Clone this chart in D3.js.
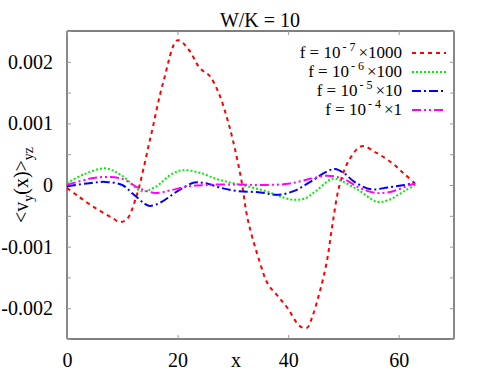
<!DOCTYPE html>
<html>
<head>
  <script src="https://cdn.jsdelivr.net/npm/d3@7"></script>
  <style>
    body { margin: 0; background: #fff; }
  </style>
</head>
<body>
<div id="chart"></div>
<script>
  // x samples and series values
  const redX   = [0, 2, 4.7, 8.1, 9.6, 10.8, 12.5, 15, 17.5, 20, 22, 24, 25.8, 27.5, 28.9, 30, 31.5, 32.7, 34.9, 36.3, 38.1, 39.9, 42.1, 43.4, 44.4, 45.7, 47, 48, 49.3, 51, 53.3, 56, 58.9, 61, 62.9];
  const redY   = [-0.00005, -0.00018, -0.00035, -0.00053, -0.0006, -0.00056, -0.0002, 0.00073, 0.0017, 0.00235, 0.0022, 0.0019, 0.00177, 0.00148, 0.0011, 0.00073, 0.0001, -0.00056, -0.00126, -0.0016, -0.0018, -0.002, -0.00229, -0.00232, -0.00213, -0.00174, -0.00124, -0.00065, 0, 0.0004, 0.00063, 0.00052, 0.00035, 0.00018, 0.00003];

  const greenX = [0, 3, 7, 10, 13.5, 16, 19, 21, 24, 27, 30, 33, 36, 39, 41, 43, 45, 48, 50, 53, 56, 58, 61, 63];
  const greenY = [0.00003, 0.00017, 0.00027, 0.00015, -0.0001, -0.00003, 0.00018, 0.00024, 0.0002, 0.0001, 0.00003, -0.00003, -0.0001, -0.0002, -0.00024, -0.00022, -0.0001, 0.0001, 0.00005, -0.0001, -0.00027, -0.00025, -0.0001, 0];

  const blueX  = [0, 4, 7, 10, 12, 14, 15, 17, 20, 23, 25, 28, 31, 35, 38, 41, 44, 47, 48.5, 50, 52, 55, 58, 61, 63];
  const blueY  = [-0.00002, 0.00003, 0.00005, 0, -0.00015, -0.0003, -0.00034, -0.00028, -0.0001, 0.00004, 0.00003, -0.00005, -0.0001, -0.00012, -0.00016, -0.0001, 0.00005, 0.00022, 0.00026, 0.0002, 0.00005, -0.00007, -0.00004, 0, 0.00003];

  const magX   = [0, 4, 7, 10, 13, 16, 19, 22, 25, 30, 35, 40, 44, 47, 50, 53, 56, 59, 62, 63];
  const magY   = [0, 0.0001, 0.00013, 0.0001, -0.00005, -0.00013, -0.00008, -0.00002, 0, 0.00001, 0, 0.00002, 0.0001, 0.00015, 0.0001, -0.00005, -0.00013, -0.0001, 0, 0.00002];

  const xTicks = [0, 20, 40, 60];
  const yTicks = [-0.002, -0.001, 0, 0.001, 0.002];
  const legendExp = ["- 7", "- 6", "- 5", "- 4"];
  const legendMul = ["×1000", "×100", "×10", "×1"];

  const width = 486, height = 375;
  const margin = {top: 31, right: 32, bottom: 36, left: 67};
  const w = width - margin.left - margin.right;
  const h = height - margin.top - margin.bottom;
  const serif = "'Liberation Serif', 'DejaVu Serif', serif";

  const svg = d3.select("#chart").append("svg")
      .attr("width", width)
      .attr("height", height)
      .style("font-family", serif);

  const g = svg.append("g")
      .attr("transform", `translate(${margin.left},${margin.top})`);

  const x = d3.scaleLinear().domain([0, 70]).range([0, w]);
  const y = d3.scaleLinear().domain([-0.0025, 0.0025]).range([h, 0]);

  // frame: top/bottom black, sides gray
  g.append("line").attr("x1", 0).attr("x2", w).attr("y1", 0).attr("y2", 0).attr("stroke", "#000");
  g.append("line").attr("x1", 0).attr("x2", w).attr("y1", h).attr("y2", h).attr("stroke", "#000");
  g.append("line").attr("x1", 0).attr("x2", 0).attr("y1", 0).attr("y2", h).attr("stroke", "#888").attr("stroke-width", 2);
  g.append("line").attr("x1", w).attr("x2", w).attr("y1", 0).attr("y2", h).attr("stroke", "#888").attr("stroke-width", 2);

  const minorY = d3.range(-0.0025, 0.00251, 0.0005);

  function styleAxis(sel) {
    sel.attr("font-family", null).style("font-family", serif);
    sel.select(".domain").remove();
    sel.selectAll(".tick line").attr("stroke", "#999");
    sel.selectAll(".tick text").attr("fill", "#000");
  }

  g.append("g").attr("transform", `translate(0,${h})`)
      .call(d3.axisBottom(x).tickValues(xTicks).tickSize(-4).tickPadding(14).tickFormat(d3.format("d")))
      .call(styleAxis)
      .selectAll("text").attr("font-size", 20);

  g.append("g")
      .call(d3.axisTop(x).tickValues(xTicks).tickSize(-4).tickFormat(""))
      .call(styleAxis);

  g.append("g")
      .call(d3.axisLeft(y).tickValues(minorY).tickSize(-4).tickFormat(""))
      .call(styleAxis);

  g.append("g")
      .call(d3.axisLeft(y).tickValues(yTicks).tickSize(0).tickPadding(14)
        .tickFormat(d => d === 0 ? "0" : d3.format(".3f")(d).replace("−", "-")))
      .call(styleAxis)
      .selectAll("text").attr("font-size", 20);

  g.append("g").attr("transform", `translate(${w},0)`)
      .call(d3.axisRight(y).tickValues(minorY).tickSize(-4).tickFormat(""))
      .call(styleAxis);

  // curves
  const series = [
    {xs: redX, ys: redY, color: "#ff0000", dash: "4,4"},
    {xs: greenX, ys: greenY, color: "#00ee00", dash: "2,2"},
    {xs: blueX, ys: blueY, color: "#0000ff", dash: "9,3,2,3"},
    {xs: magX, ys: magY, color: "#ff00ff", dash: "9,3,2,3,2,3"}
  ];

  const line = d3.line()
      .x(d => x(d[0]))
      .y(d => y(d[1]))
      .curve(d3.curveCatmullRom.alpha(0.5));

  series.forEach(s => {
    g.append("path")
        .datum(s.xs.map((v, i) => [v, s.ys[i]]))
        .attr("d", line)
        .attr("fill", "none")
        .attr("stroke", s.color)
        .attr("stroke-width", 2)
        .attr("stroke-dasharray", s.dash);
  });

  // legend: pieces placed right to left so the superscript sits between them
  const legend = svg.append("g");
  series.forEach((s, i) => {
    const ly = 58 + i * 19;
    let right = 402;
    const mul = legend.append("text").attr("x", right).attr("y", ly)
        .attr("text-anchor", "end").attr("font-size", 17).text(legendMul[i]);
    right -= mul.node().getComputedTextLength() + 3;
    const sup = legend.append("text").attr("x", right).attr("y", ly - 7)
        .attr("text-anchor", "end").attr("font-size", 12).text(legendExp[i]);
    right -= sup.node().getComputedTextLength() + 2;
    legend.append("text").attr("x", right).attr("y", ly)
        .attr("text-anchor", "end").attr("font-size", 17).text("f = 10");
    legend.append("line")
        .attr("x1", 412).attr("x2", 446)
        .attr("y1", ly - 5).attr("y2", ly - 5)
        .attr("stroke", s.color)
        .attr("stroke-width", 2)
        .attr("stroke-dasharray", s.dash);
  });

  // title and axis labels
  svg.append("text").attr("x", 260).attr("y", 27).attr("text-anchor", "middle")
      .attr("font-size", 20).text("W/K = 10");

  svg.append("text").attr("x", 236).attr("y", 367).attr("text-anchor", "middle")
      .attr("font-size", 20).text("x");

  const yl = svg.append("text")
      .attr("transform", "translate(28,185) rotate(-90)")
      .attr("text-anchor", "middle")
      .attr("font-size", 20);
  yl.append("tspan").text("<v");
  yl.append("tspan").attr("dy", 5).attr("font-size", 14).text("y");
  yl.append("tspan").attr("dy", -5).text("(x)>");
  yl.append("tspan").attr("dy", 5).attr("font-size", 14).text("yz");
</script>
</body>
</html>
